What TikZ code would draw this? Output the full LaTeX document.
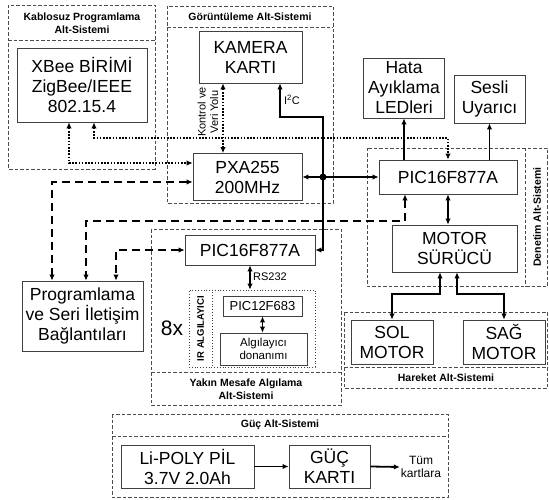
\documentclass[tikz,border=0pt]{standalone}
\usepackage{fontspec}
\setmainfont{Liberation Sans}
\usetikzlibrary{arrows.meta}
\begin{document}
\begin{tikzpicture}[x=1pt, y=-1pt, >={Latex[length=6pt,width=5.5pt]},
	box/.style = {draw=black!75, line width=0.8pt, align=center, inner sep=0pt, font=\fontsize{17.5}{20}\selectfont},
	subsys/.style = {draw=black!70, line width=0.8pt, dash pattern=on 3.5pt off 2pt},
	title/.style = {font=\fontsize{10.5}{13.5}\selectfont\bfseries, align=center, inner sep=0pt},
	small/.style = {font=\fontsize{11}{12.5}\selectfont, align=center, inner sep=1pt},
	bus/.style = {line width=1.8pt},
	ctl/.style = {line width=1.6pt, dash pattern=on 1.6pt off 1.6pt},
	prg/.style = {line width=2.3pt, dash pattern=on 8pt off 5pt}]
	\useasboundingbox (0,0) rectangle (549,500);
	\draw[subsys] (8,5) rectangle (155,169) (8,40) -- (155,40);
	\draw[subsys] (167,6) rectangle (333,203) (167,27) -- (333,27);
	\draw[subsys] (367,148) rectangle (547.5,286) (525,148) -- (525,286);
	\draw[subsys] (151,229) rectangle (341,405) (151,372) -- (341,372);
	\draw[subsys] (344,312) rectangle (547.5,388) (344,367) -- (547.5,367);
	\draw[subsys] (112,414) rectangle (448,497) (112,436) -- (448,436);
	\node[title] (tkab) at (82,23) {Kablosuz Programlama\\Alt-Sistemi};
	\node[title] (tgor) at (250,17) {Görüntüleme Alt-Sistemi};
	\node[title, rotate=90] (tden) at (537,217) {Denetim Alt-Sistemi};
	\node[title] (tyak) at (246,389) {Yakın Mesafe Algılama\\Alt-Sistemi};
	\node[title] (thar) at (446,378) {Hareket Alt-Sistemi};
	\node[title] (tguc) at (280,425) {Güç Alt-Sistemi};
	\node[box, minimum width=130, minimum height=74] (xbee) at (82,85) {XBee BİRİMİ\\ZigBee/IEEE\\802.15.4};
	\node[box, minimum width=103, minimum height=52] (cam) at (250.5,57) {KAMERA\\KARTI};
	\node[box, minimum width=109, minimum height=47] (pxa) at (247.5,177) {PXA255\\200MHz};
	\node[box, minimum width=81, minimum height=60] (led) at (404,88) {Hata\\Ayıklama\\LEDleri};
	\node[box, minimum width=71, minimum height=48] (buzz) at (489.5,99) {Sesli\\Uyarıcı};
	\node[box, minimum width=138, minimum height=34] (picd) at (448,177) {PIC16F877A};
	\node[box, minimum width=125, minimum height=47] (drv) at (454.5,248.5) {MOTOR\\SÜRÜCÜ};
	\node[box, minimum width=121, minimum height=70] (prog) at (82.5,316) {Programlama\\ve Seri İletişim\\Bağlantıları};
	\node[box, minimum width=130, minimum height=30] (picy) at (250,250) {PIC16F877A};
	\node[draw=black!75, line width=0.8pt, dotted, minimum width=126, minimum height=77, inner sep=0pt] (ir) at (252,328.5) {};
	\node[box, minimum width=79, minimum height=20, font=\fontsize{13}{15}\selectfont] (pic12) at (262.5,306) {PIC12F683};
	\node[box, minimum width=87, minimum height=32, font=\fontsize{11.5}{13}\selectfont] (alg) at (263.5,349) {Algılayıcı\\donanımı};
	\node[title, rotate=90, font=\fontsize{9.5}{11}\selectfont\bfseries] (irt) at (200.5,328.5) {IR ALGILAYICI};
	\node[font=\fontsize{21}{24}\selectfont] (8x) at (172,328) {8x};
	\node[box, minimum width=82, minimum height=44] (solm) at (392,342) {SOL\\MOTOR};
	\node[box, minimum width=82, minimum height=44] (sagm) at (504,342) {SAĞ\\MOTOR};
	\node[box, minimum width=133, minimum height=43] (lipo) at (187.5,466.5) {Li-POLY PİL\\3.7V 2.0Ah};
	\node[box, minimum width=81, minimum height=43] (guc) at (329.5,466.5) {GÜÇ\\KARTI};
	\node[small, font=\fontsize{12}{13.5}\selectfont] (tum) at (421,467) {Tüm\\kartlara};
	\node[small] (i2c) at (292,100) {I\textsuperscript{2}C};
	\node[small, rotate=90] (kvy) at (208,112) {Kontrol ve\\Veri Yolu};
	\draw[dotted, black!75, line width=0.8pt] (ir.north -| 212,0) -- (ir.south -| 212,0);
	\coordinate (jn) at (323,177);
	\draw[bus, <->] (cam.south -| 280,0) |- (jn |- 0,117) |- (picy.east);
	\draw[bus, <->] (pxa.east |- jn) -- (picd.west |- jn);
	\fill (jn) circle (3.5);
	\draw[ctl, <->] (cam.south -| 223,0) -- (pxa.north -| 223,0);
	\draw[ctl, <->] (xbee.south -| 69,0) |- (pxa.west |- 0,163);
	\draw[ctl, <->] (xbee.south -| 94,0) |- (picd.north |- 0,138) -- (picd.north);
	\draw[prg, <->] (pxa.west |- 0,182) -| (prog.north -| 52,0);
	\draw[prg, <->] (picd.south -| 405,0) -- (405,221) -| (prog.north -| 86,0);
	\draw[prg, <->] (picy.west) -| (prog.north -| 116,0);
	\draw[bus, ->] (led.south |- picd.north) -- (led.south);
	\draw[bus, ->] (buzz.south |- picd.north) -- (buzz.south);
	\draw[bus, <->] (picd.south) -- (drv.north -| picd.south);
	\draw[bus, <->] (drv.south -| 440,0) |- (solm.north |- 0,294) -- (solm.north);
	\draw[bus, <->] (drv.south -| 457,0) |- (sagm.north |- 0,294) -- (sagm.north);
	\draw[bus, <->] (picy.south) -- (ir.north -| picy.south);
	\node[small, anchor=west] (rs) at (252,277) {RS232};
	\draw[bus, <->] (pic12.south) -- (alg.north -| pic12.south);
	\draw[bus, ->] (lipo) -- (guc);
	\draw[bus, ->] (guc.east) -- (tum.west);
\end{tikzpicture}
\end{document}
